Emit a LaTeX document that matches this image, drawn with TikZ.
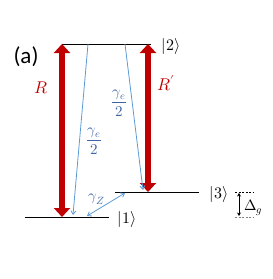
\documentclass[tikz,border=0pt]{standalone}
\usepackage{amsmath}
\usepackage{fontspec}
\usepackage{unicode-math}
\setmathfont{Latin Modern Math}
\newfontfamily\labelfont{Carlito}
\usetikzlibrary{arrows.meta}
\definecolor{darkred}{HTML}{C00000}
\definecolor{lineblue}{HTML}{5B9BD5}
\definecolor{textblue}{HTML}{3E64A4}
\begin{document}
\begin{tikzpicture}[x=1pt,y=-1pt,
  level/.style={line width=1pt, black},
  pump/.style={line width=6pt, darkred, {Triangle[width=16pt,length=9pt]}-{Triangle[width=16pt,length=9pt]}},
  decay/.style={line width=0.8pt, lineblue, -{Straight Barb[length=3.5pt,width=5pt]}},
  ket/.style={inner sep=0pt, font=\fontsize{16}{18}\selectfont},
  rate/.style={inner sep=0pt, textblue, font=\fontsize{15}{17}\selectfont},
  redlabel/.style={inner sep=0pt, darkred, font=\fontsize{17}{19}\selectfont}]
\useasboundingbox (0,0) rectangle (273,279);
% levels
\coordinate (l2a) at (62,44); \coordinate (l2b) at (151,44);
\coordinate (l1a) at (25,217); \coordinate (l1b) at (109,217);
\coordinate (l3a) at (115,192); \coordinate (l3b) at (199,192);
\draw[level] (l2a) -- (l2b);
\draw[level] (l1a) -- (l1b);
\draw[level] (l3a) -- (l3b);
\node[ket] (k2) at (171,46) {$|2\rangle$};
\node[ket] (k1) at (127,219) {$|1\rangle$};
\node[ket] (k3) at (219,194) {$|3\rangle$};
\node[inner sep=0pt, font=\labelfont\fontsize{23}{25}\selectfont] (lab) at (26,57) {(a)};
% pumps
\coordinate (rt) at (62,44); \coordinate (rb) at (62,217);
\coordinate (pt) at (148,44); \coordinate (pb) at (148,192);
\draw[pump] (rt) -- (rb);
\draw[pump] (pt) -- (pb);
\node[redlabel] (R) at (41,88) {$R$};
\node[redlabel] (Rp) at (166,83) {$R'$};
% decays
\coordinate (d1s) at (88,44); \coordinate (d1e) at (73,215);
\coordinate (d2s) at (125,44); \coordinate (d2e) at (143,190);
\draw[decay] (d1s) -- (d1e);
\draw[decay] (d2s) -- (d2e);
\node[rate] (g1) at (94,141) {$\dfrac{\gamma_e}{2}$};
\node[rate] (g2) at (119,103) {$\dfrac{\gamma_e}{2}$};
\coordinate (zs) at (87,216); \coordinate (ze) at (125,193);
\draw[decay, {Straight Barb[length=3.5pt,width=5pt]}-{Straight Barb[length=3.5pt,width=5pt]}] (zs) -- (ze);
\node[rate] (gz) at (97,199) {$\gamma_Z$};
% Delta g
\coordinate (dta) at (235,192); \coordinate (dtb) at (253,192);
\coordinate (dba) at (235,217); \coordinate (dbb) at (253,217);
\draw[line width=0.6pt, dash pattern=on 2pt off 1.5pt] (dta) -- (dtb);
\draw[line width=0.6pt, gray, dash pattern=on 2pt off 1.5pt] (dba) -- (dbb);
\coordinate (da) at (239,193); \coordinate (db) at (239,216);
\draw[line width=0.7pt, {Stealth[length=3.5pt,width=4pt]}-{Stealth[length=3.5pt,width=4pt]}] (da) -- (db);
\node[ket, anchor=base west, font=\fontsize{15}{17}\selectfont] (dg) at (244,210) {$\Delta_g$};
\end{tikzpicture}
\end{document}
